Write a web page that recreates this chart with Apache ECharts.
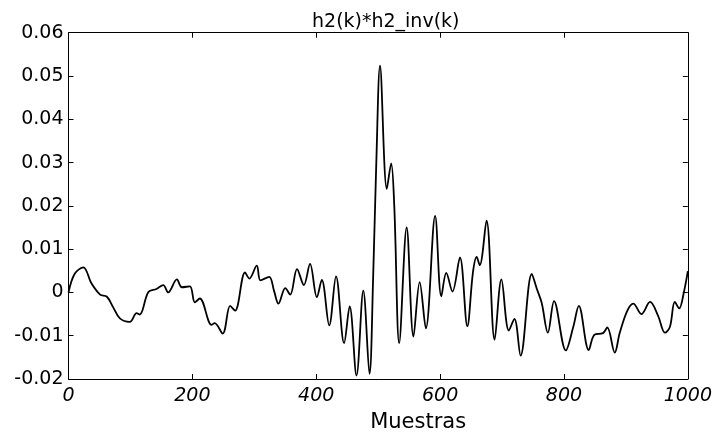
<!DOCTYPE html>
<html>
<head>
<meta charset="utf-8">
<script src="https://cdn.jsdelivr.net/npm/echarts@6/dist/echarts.min.js"></script>
<style>
    html, body { margin: 0; padding: 0; background: #fff; }
    #chart { width: 715px; height: 438px; }
</style>
</head>
<body>
<div id="chart"></div>
<script>
const samples = [
    0, 10, 24, 37, 51, 62, 72, 83, 99, 110, 115, 129, 142, 153, 161, 175, 183, 196,
    204, 212, 231, 236, 249, 261, 269, 285, 292, 304, 310, 324, 332, 339, 350, 358,
    369, 380, 390, 401, 409, 421, 432, 445, 454, 465, 476, 486, 492, 497, 503, 514,
    521, 526, 534, 546, 557, 567, 577, 592, 602, 610, 620, 632, 644, 653, 659, 664,
    675, 688, 699, 711, 720, 730, 748, 756, 764, 774, 784, 803, 815, 824, 840, 849,
    863, 870, 882, 890, 902, 912, 925, 939, 952, 963, 971, 979, 986, 994, 1000
]
const values = [
    0, 0.0043, 0.0058, 0.0021, -0.0005, -0.001, -0.0034, -0.006, -0.0068, -0.0048, -0.0051, 0.0001, 0.0008, 0.0017, 0, 0.003, 0.0012, 0.0014,
    -0.0023, -0.0014, -0.0075, -0.0071, -0.0095, -0.0031, -0.0042, 0.0046, 0.0032, 0.0062, 0.0028, 0.0036, 0.0003, -0.0026, 0.001, -0.0005,
    0.0054, 0.0017, 0.0066, -0.0011, 0.0029, -0.0076, 0.0037, -0.0117, -0.0032, -0.0192, 0.0004, -0.0188, 0.004, 0.03, 0.0524, 0.0239,
    0.0298, 0.02, -0.0117, 0.015, -0.0102, 0.0024, -0.0083, 0.0177, -0.0009, 0.0045, 0.0002, 0.0081, -0.0078, 0.0046, 0.0082, 0.0063,
    0.0166, -0.0109, 0.003, -0.0088, -0.0061, -0.0146, 0.0043, 0.0009, -0.0024, -0.0093, -0.002, -0.0134, -0.008, -0.0031, -0.0133, -0.0098,
    -0.0094, -0.0081, -0.0139, -0.0094, -0.0043, -0.0026, -0.005, -0.0022, -0.0054, -0.0093, -0.008, -0.0022, -0.0037, 0.0003, 0.0049
]
const xTicks = [0, 200, 400, 600, 800, 1000]
const yTicks = [-0.02, -0.01, 0, 0.01, 0.02, 0.03, 0.04, 0.05, 0.06]

const font = 'DejaVu Sans'
const seriesData = samples.map((k, i) => [k, values[i]])

const chart = echarts.init(document.getElementById('chart'))

const boxAxis = {
    axisLine: { show: true, onZero: false, lineStyle: { color: '#000', width: 1 } },
    axisTick: { show: true, inside: true, length: 5, lineStyle: { color: '#000' } },
    splitLine: { show: false }
}

const option = {
    animation: false,
    backgroundColor: '#fff',
    title: {
        text: 'h2(k)*h2_inv(k)',
        left: 312,
        top: 13,
        padding: 0,
        textStyle: { fontFamily: font, fontSize: 19, fontWeight: 'normal', color: '#000' }
    },
    grid: { left: 68.5, right: 27, top: 32.7, bottom: 45.3, containLabel: false },
    xAxis: [
        Object.assign({
            type: 'value',
            position: 'bottom',
            min: xTicks[0],
            max: xTicks[xTicks.length - 1],
            interval: 200,
            name: 'Muestras',
            nameLocation: 'middle',
            nameGap: 33,
            nameTextStyle: { fontFamily: font, fontSize: 21, color: '#000', padding: [0, 0, 0, 80] },
            axisLabel: {
                fontFamily: font, fontSize: 19, fontStyle: 'italic', color: '#000', margin: 8,
                formatter: v => String(v)
            }
        }, boxAxis),
        Object.assign({
            type: 'value',
            position: 'top',
            min: xTicks[0],
            max: xTicks[xTicks.length - 1],
            interval: 200,
            axisLabel: { show: false }
        }, boxAxis)
    ],
    yAxis: [
        Object.assign({
            type: 'value',
            position: 'left',
            min: yTicks[0],
            max: yTicks[yTicks.length - 1],
            interval: 0.01,
            axisLabel: {
                fontFamily: font,
                fontSize: 19,
                color: '#000',
                margin: 5,
                formatter: v => {
                    const r = Math.round(v * 100) / 100
                    return r === 0 ? '0' : r.toFixed(2)
                }
            }
        }, boxAxis),
        Object.assign({
            type: 'value',
            position: 'right',
            min: yTicks[0],
            max: yTicks[yTicks.length - 1],
            interval: 0.01,
            axisLabel: { show: false }
        }, boxAxis)
    ],
    series: [
        {
            type: 'line',
            data: seriesData,
            xAxisIndex: 0,
            yAxisIndex: 0,
            smooth: 0.35,
            showSymbol: false,
            lineStyle: { color: '#000', width: 1.8 }
        }
    ]
}

chart.setOption(option)
</script>
</body>
</html>
